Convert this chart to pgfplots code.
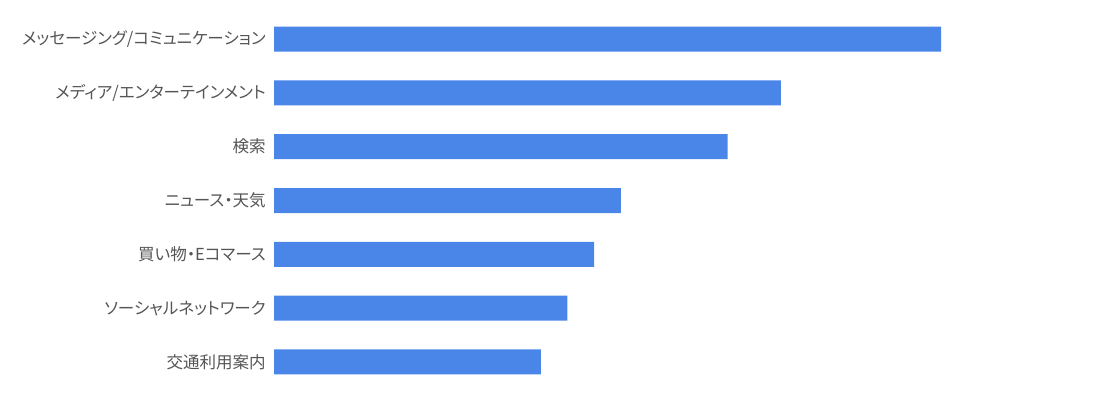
\documentclass[border=0pt]{standalone}
\usepackage{fontspec}
\setmainfont[RawFeature={+palt}]{Noto Sans CJK JP}
\usepackage{pgfplots}
\pgfplotsset{compat=1.18}
\definecolor{barblue}{HTML}{4A86E8}
\definecolor{labelgray}{HTML}{555555}
\begin{document}
\begin{tikzpicture}
% 1px = 0.75pt, page 1100x400 px
\useasboundingbox (0,0) rectangle (825pt,300pt);
\begin{axis}[
  at={(205.5pt,8.33pt)}, anchor=south west,
  scale only axis, width=500.25pt, height=282.6pt,
  xmin=0, xmax=25, ymin=-0.5, ymax=6.5, y dir=reverse,
  xbar, bar width=18.75pt,
  axis line style={draw=none},
  xtick=\empty, ytick={0,...,6},
  yticklabels={メッセージング/コミュニケーション, メディア/エンターテインメント, 検索, ニュース・天気, 買い物・Eコマース, ソーシャルネットワーク, 交通利用案内},
  major tick length=0pt,
  tick style={draw=none},
  yticklabel style={inner sep=0pt, xshift=-6pt, font=\fontsize{12.4pt}{14pt}\selectfont, text=labelgray},
  clip=false
]
\addplot[fill=barblue, draw=none] coordinates {(25,0) (19,1) (17,2) (13,3) (12,4) (11,5) (10,6)};
\end{axis}
\end{tikzpicture}
\end{document}
